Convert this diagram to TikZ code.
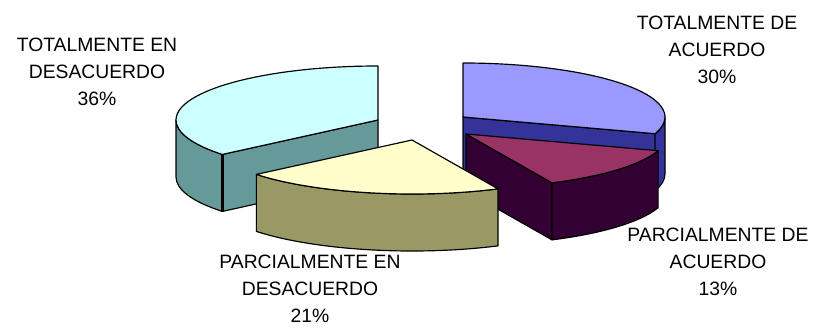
\documentclass[tikz,border=0pt]{standalone}
\usepackage{fontspec}
\setmainfont{Liberation Sans}
\usetikzlibrary{calc}

\definecolor{cyantop}{HTML}{CCFFFF}
\definecolor{cyanside}{HTML}{669999}
\definecolor{bluetop}{HTML}{9999FF}
\definecolor{blueside}{HTML}{333399}
\definecolor{maroontop}{HTML}{993366}
\definecolor{maroonside}{HTML}{330033}
\definecolor{yellowtop}{HTML}{FFFFCC}
\definecolor{yellowside}{HTML}{999966}

\begin{document}
\begin{tikzpicture}[
    x=0.03cm, y=0.03cm,
    face/.style={draw=black, line width=1pt, line join=round},
    ell/.style={x radius=202, y radius=54},
    pielabel/.style={align=center, inner sep=0pt, font=\fontsize{16.5}{23}\selectfont}
]
\useasboundingbox (0,0) rectangle (814,328);

\coordinate (cyanc) at (378,208);
\coordinate (bluec) at (463,211);
\coordinate (maroonc) at (466,194);
\coordinate (yellowc) at (412,188);

% totalmente en desacuerdo
\filldraw[face, fill=cyanside] (cyanc) -- ($(cyanc)+(219.6:202 and 54)$) -- ++(0,-57) -- ($(cyanc)+(0,-57)$) -- cycle;
\filldraw[face, fill=cyanside] ($(cyanc)+(180:202 and 54)$) arc[ell, start angle=180, end angle=219.6] -- ++(0,-57) arc[ell, start angle=219.6, end angle=180] -- cycle;
\draw[line width=2.5pt] ($(cyanc)+(219.6:202 and 54)$) -- ++(0,-57);
\filldraw[face, fill=cyantop] (cyanc) -- ($(cyanc)+(90:202 and 54)$) arc[ell, start angle=90, end angle=219.6] -- cycle;

% totalmente de acuerdo
\filldraw[face, fill=blueside] (bluec) -- ($(bluec)+(-18:202 and 54)$) -- ++(0,-57) -- ($(bluec)+(0,-57)$) -- cycle;
\filldraw[face, fill=blueside] ($(bluec)+(-18:202 and 54)$) arc[ell, start angle=-18, end angle=0] -- ++(0,-57) arc[ell, start angle=0, end angle=-18] -- cycle;
\filldraw[face, fill=bluetop] (bluec) -- ($(bluec)+(-18:202 and 54)$) arc[ell, start angle=-18, end angle=90] -- cycle;

% parcialmente de acuerdo
\filldraw[face, fill=maroonside] (maroonc) -- ($(maroonc)+(295.2:202 and 54)$) -- ++(0,-57) -- ($(maroonc)+(0,-57)$) -- cycle;
\filldraw[face, fill=maroonside] ($(maroonc)+(295.2:202 and 54)$) arc[ell, start angle=295.2, end angle=342] -- ++(0,-57) arc[ell, start angle=342, end angle=295.2] -- cycle;
\filldraw[face, fill=maroontop] (maroonc) -- ($(maroonc)+(295.2:202 and 54)$) arc[ell, start angle=295.2, end angle=342] -- cycle;

% parcialmente en desacuerdo
\filldraw[face, fill=yellowside] ($(yellowc)+(219.6:202 and 54)$) arc[ell, start angle=219.6, end angle=295.2] -- ++(0,-57) arc[ell, start angle=295.2, end angle=219.6] -- cycle;
\filldraw[face, fill=yellowtop] (yellowc) -- ($(yellowc)+(219.6:202 and 54)$) arc[ell, start angle=219.6, end angle=295.2] -- cycle;

% etiquetas
\node[pielabel] (tdes) at (97,256) {TOTALMENTE EN\\DESACUERDO\\36\%};
\node[pielabel] (tac) at (717,278) {TOTALMENTE DE\\ACUERDO\\30\%};
\node[pielabel] (pac) at (718,66) {PARCIALMENTE DE\\ACUERDO\\13\%};
\node[pielabel] (pdes) at (310,39) {PARCIALMENTE EN\\DESACUERDO\\21\%};

\end{tikzpicture}
\end{document}
